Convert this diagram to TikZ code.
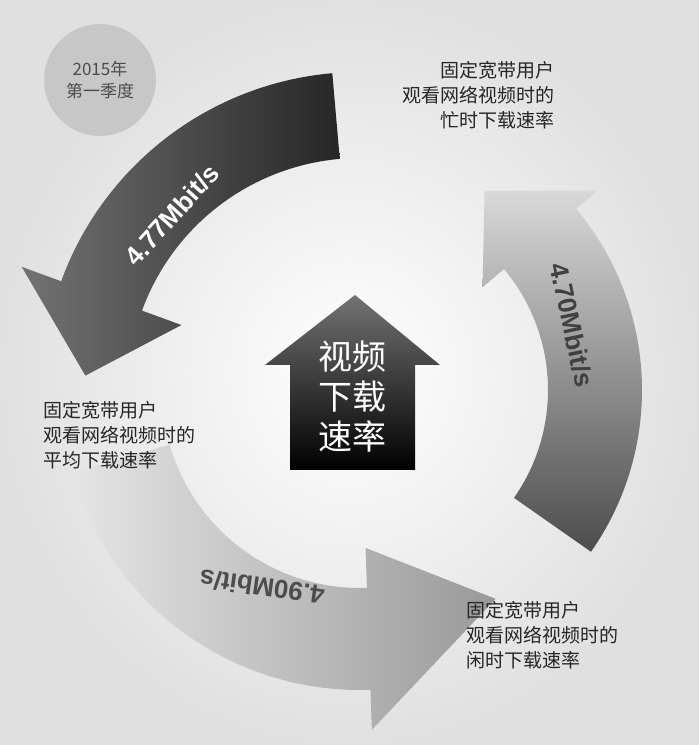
\documentclass[tikz,border=0pt]{standalone}
\usepackage{fontspec}
\setmainfont{Liberation Sans}
\newfontfamily\cjk{Noto Sans CJK SC}
\usetikzlibrary{positioning,calc}
\tikzset{
    label-text/.style = {font=\cjk\fontsize{19}{25}\selectfont, text=black!85},
    rate-text/.style = {font=\bfseries\fontsize{26}{30}\selectfont},
}
% curved arrow: center, inner r, outer r, start angle, head angle, tip angle, head overhang
\newcommand{\ringarrow}[8]{%
  \path[#1] ($#2+(#5:#4)$) arc[start angle=#5, end angle=#6, radius=#4]
    -- ($#2+(#6:#4+#8)$) -- ($#2+(#7:#3/2+#4/2)$) -- ($#2+(#6:#3-#8)$)
    -- ($#2+(#6:#3)$) arc[start angle=#6, end angle=#5, radius=#3] -- cycle;}

\begin{document}
\begin{tikzpicture}[x=1pt,y=1pt]
\useasboundingbox (0,0) rectangle (699,745);
\shade[inner color=white, outer color=black!12] (0,0) rectangle (699,745);
% season badge
\node[circle, fill=black!22, minimum size=112pt, align=center, font=\cjk\fontsize{17}{22}\selectfont, text=black!70] (season) at (100,665) {2015年\\第一季度};
% ring arrows
\ringarrow{left color=black!55, right color=black!85}{(360,355)}{232}{318}{95}{160}{177}{42}
\ringarrow{top color=black!15, bottom color=black!70}{(360,355)}{188}{282}{-35}{40}{58}{28}
\ringarrow{left color=black!10, right color=black!40}{(360,355)}{198}{300}{196}{272}{303}{40}
% center arrow
\shade[top color=black!55, bottom color=black] (290,275) -- (290,380) -- (265,380) -- (355,450) -- (440,380) -- (415,380) -- (415,275) -- cycle;
\node[font=\cjk\fontsize{34}{40}\selectfont, text=white, align=center] (title) at (352,348) {视频\\下载\\速率};
% rates
\node[rate-text, text=white, rotate=48] (rateavg) at (172,530) {4.77Mbit{/}s};
\node[rate-text, text=black!75, rotate=-78] (ratebusy) at (572,420) {4.70Mbit{/}s};
\node[rate-text, text=black!70, rotate=172] (rateidle) at (262,158) {4.90Mbit{/}s};
% labels
\node[label-text, align=right, anchor=east] (busy) at (558,650) {固定宽带用户\\观看网络视频时的\\忙时下载速率};
\node[label-text, align=left, anchor=west] (avg) at (40,310) {固定宽带用户\\观看网络视频时的\\平均下载速率};
\node[label-text, align=left, anchor=west] (idle) at (463,110) {固定宽带用户\\观看网络视频时的\\闲时下载速率};
\end{tikzpicture}
\end{document}
